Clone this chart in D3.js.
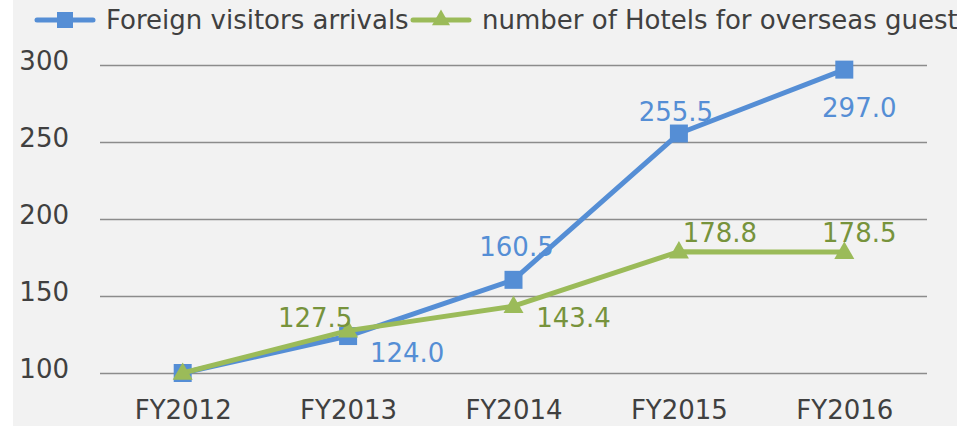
<!DOCTYPE html>
<html>
<head>
<meta charset="utf-8">
<script src="https://cdn.jsdelivr.net/npm/d3@7/dist/d3.min.js"></script>
<style>
  html, body { margin: 0; padding: 0; background: #ffffff; }
  svg { display: block; }
  text { font-family: "DejaVu Sans", Verdana, sans-serif; }
</style>
</head>
<body>
<svg id="chart" width="963" height="426"></svg>
<script>
// ---- data ----
const categories = ["FY2012", "FY2013", "FY2014", "FY2015", "FY2016"];
const visitors = [100, 124.0, 160.5, 255.5, 297.0];
const hotels = [100, 127.5, 143.4, 178.8, 178.5];
const seriesNames = ["Foreign visitors arrivals", "number of Hotels for overseas guest"];
const yTicks = [100, 150, 200, 250, 300];
// which points carry a data label
const visitorsLabelled = [false, true, true, true, true];
const hotelsLabelled = [false, true, true, true, true];

// ---- label placement (style) ----
const visitorsLabelOffset = [[0, 0], [59, 26], [3, -24], [-3, -13], [15, 47]];
const hotelsLabelOffset = [[0, 0], [-33, -4], [60, 21], [41, -10], [15, -10]];

const W = 963, H = 426;
const bg = { x0: 13, x1: 957 };
const plot = { left: 100, right: 927, top: 65, bottom: 373 };
const blue = "#558ed5", green = "#9bbb59";
const blueText = "#558ed5", greenText = "#77933c";
const axisText = "#404040";
const fontSize = 26;

const svg = d3.select("#chart");

svg.append("rect").attr("x", bg.x0).attr("y", 0)
  .attr("width", bg.x1 - bg.x0).attr("height", H).attr("fill", "#f2f2f2");

const clip = svg.append("defs").append("clipPath").attr("id", "bgclip");
clip.append("rect").attr("x", bg.x0).attr("y", 0).attr("width", bg.x1 - bg.x0).attr("height", H);

const x = d3.scalePoint().domain(categories).range([plot.left, plot.right]).padding(0.5);
const y = d3.scaleLinear().domain([100, 300]).range([plot.bottom, plot.top]);

// y axis with gridlines
const yAxis = d3.axisLeft(y).tickValues(yTicks).tickFormat(d3.format("d"))
  .tickSize(-(plot.right - plot.left)).tickPadding(31);
const gy = svg.append("g").attr("transform", `translate(${plot.left},0)`).call(yAxis);
gy.select(".domain").remove();
gy.selectAll(".tick line").attr("stroke", "#8c8c8c").attr("stroke-width", 1.3);
gy.selectAll(".tick text")
  .attr("fill", axisText).attr("font-size", fontSize)
  .attr("dy", "0.32em").attr("y", -4);

// x axis
const xAxis = d3.axisBottom(x).tickSize(0).tickPadding(28);
const gx = svg.append("g").attr("transform", `translate(0,${plot.bottom})`).call(xAxis);
gx.select(".domain").remove();
gx.selectAll(".tick text").attr("fill", axisText).attr("font-size", fontSize);

// lines
const line = d3.line().x((d, i) => x(categories[i])).y(d => y(d));

function drawSeries(values, color, marker) {
  svg.append("path").datum(values)
    .attr("d", line).attr("fill", "none")
    .attr("stroke", color).attr("stroke-width", 5).attr("stroke-linejoin", "round");
  const sym = marker === "square"
    ? d3.symbol().type(d3.symbolSquare).size(18 * 18)
    : d3.symbol().type(d3.symbolTriangle).size(20 * 20 * Math.sqrt(3) / 4);
  svg.append("g").selectAll("path").data(values).join("path")
    .attr("d", sym)
    .attr("transform", (d, i) => marker === "square"
      ? `translate(${x(categories[i])},${y(d)})`
      : `translate(${x(categories[i])},${y(d) + 1})`)
    .attr("fill", color);
}

drawSeries(visitors, blue, "square");
drawSeries(hotels, green, "triangle");

function drawLabels(values, labelled, offsets, color) {
  const data = values.map((v, i) => ({ v, i })).filter(d => labelled[d.i]);
  svg.append("g").selectAll("text").data(data).join("text")
    .attr("x", d => x(categories[d.i]) + offsets[d.i][0])
    .attr("y", d => y(d.v) + offsets[d.i][1])
    .attr("text-anchor", "middle")
    .attr("fill", color).attr("font-size", fontSize)
    .text(d => d3.format(".1f")(d.v));
}
drawLabels(visitors, visitorsLabelled, visitorsLabelOffset, blueText);
drawLabels(hotels, hotelsLabelled, hotelsLabelOffset, greenText);

// legend
const leg = svg.append("g").attr("clip-path", "url(#bgclip)");
const legendItems = [
  { name: seriesNames[0], color: blue, marker: "square", x0: 37 },
  { name: seriesNames[1], color: green, marker: "triangle", x0: 413 }
];
legendItems.forEach(it => {
  const g = leg.append("g").attr("transform", `translate(${it.x0},20)`);
  g.append("line").attr("x1", 0).attr("x2", 56).attr("y1", 0).attr("y2", 0)
    .attr("stroke", it.color).attr("stroke-width", 5).attr("stroke-linecap", "round");
  const sym = it.marker === "square"
    ? d3.symbol().type(d3.symbolSquare).size(16 * 16)
    : d3.symbol().type(d3.symbolTriangle).size(18 * 18 * Math.sqrt(3) / 4);
  g.append("path").attr("d", sym)
    .attr("transform", "translate(28,0)")
    .attr("fill", it.color);
  g.append("text").attr("x", 69).attr("y", 0).attr("dy", "0.35em")
    .attr("fill", axisText).attr("font-size", fontSize).text(it.name);
});
</script>
</body>
</html>
